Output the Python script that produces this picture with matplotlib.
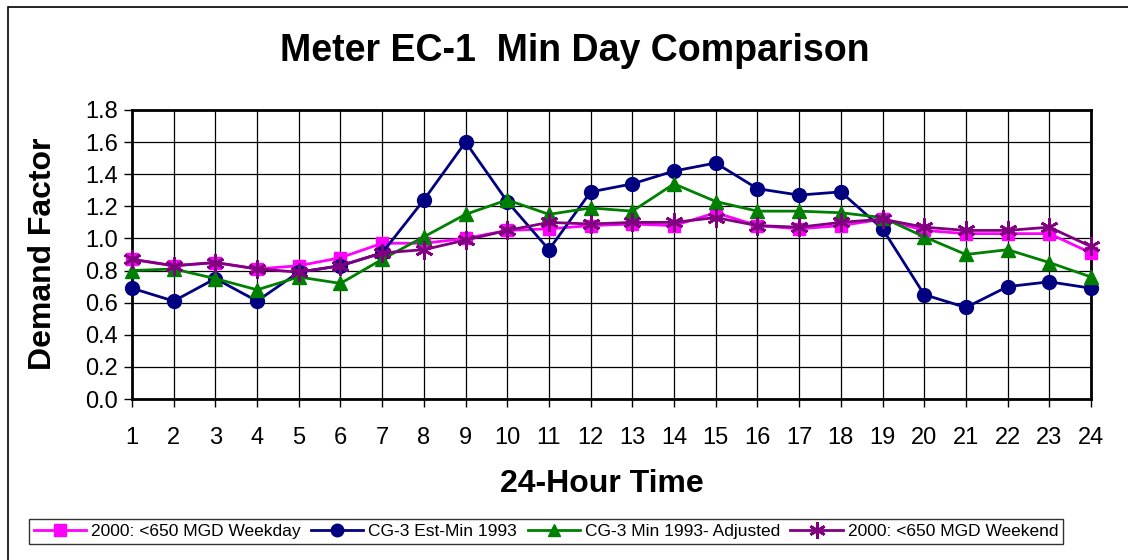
import matplotlib
matplotlib.use("Agg")
import matplotlib.pyplot as plt
from matplotlib.patches import Rectangle

plt.rcParams['font.family'] = ['Liberation Sans', 'DejaVu Sans']

hours = list(range(1, 25))
weekday_2000 = [0.87, 0.83, 0.85, 0.81, 0.83, 0.88, 0.97, 0.97, 1.00, 1.05, 1.06, 1.08, 1.09, 1.08, 1.16, 1.08, 1.06, 1.08, 1.12, 1.05, 1.03, 1.03, 1.03, 0.91]
est_min_1993 = [0.69, 0.61, 0.75, 0.61, 0.79, 0.83, 0.91, 1.24, 1.60, 1.23, 0.93, 1.29, 1.34, 1.42, 1.47, 1.31, 1.27, 1.29, 1.06, 0.65, 0.57, 0.70, 0.73, 0.69]
min_1993_adj = [0.80, 0.81, 0.75, 0.68, 0.76, 0.72, 0.87, 1.01, 1.15, 1.24, 1.15, 1.19, 1.17, 1.34, 1.23, 1.17, 1.17, 1.16, 1.13, 1.01, 0.90, 0.93, 0.85, 0.76]
weekend_2000 = [0.87, 0.83, 0.85, 0.81, 0.79, 0.83, 0.91, 0.93, 0.99, 1.05, 1.10, 1.09, 1.10, 1.10, 1.13, 1.08, 1.07, 1.10, 1.12, 1.07, 1.05, 1.05, 1.07, 0.95]

labels = ["2000: <650 MGD Weekday", "CG-3 Est-Min 1993", "CG-3 Min 1993- Adjusted", "2000: <650 MGD Weekend"]
y_ticks = [0.0, 0.2, 0.4, 0.6, 0.8, 1.0, 1.2, 1.4, 1.6, 1.8]

fig = plt.figure(figsize=(11.28, 5.6), dpi=100)
ax = fig.add_axes([132/1128, 1-399/560, (1091-132)/1128, (399-110)/560])

# outer chart border (top and left visible)
fig.patches.append(Rectangle((8/1128, -0.1), 1.2, 1 - 7/560 + 0.1, transform=fig.transFigure,
                             fill=False, edgecolor='black', linewidth=1.2))

ax.plot(hours, weekday_2000, color='#FF00FF', lw=2, marker='s', ms=9, mec='#FF00FF', mfc='#FF00FF', label=labels[0], zorder=3, clip_on=False)
ax.plot(hours, est_min_1993, color='#000080', lw=2, marker='o', ms=10, mec='#000080', mfc='#000080', label=labels[1], zorder=4, clip_on=False)
ax.plot(hours, min_1993_adj, color='#008000', lw=2, marker='^', ms=10, mec='#008000', mfc='#008000', label=labels[2], zorder=5, clip_on=False)
ax.plot(hours, weekend_2000, color='#800080', lw=2, marker=(6, 2, 0), ms=13, mew=2, mec='#800080', label=labels[3], zorder=6, clip_on=False)

ax.set_xlim(1, 24)
ax.set_ylim(0, 1.8)
ax.set_xticks(hours)
ax.set_yticks(y_ticks)
ax.set_yticklabels([f"{v:.1f}" for v in y_ticks])
ax.grid(True, color='black', lw=0.9)
ax.set_axisbelow(True)
for s in ax.spines.values():
    s.set_linewidth(2)
ax.tick_params(axis='both', direction='out', length=6, width=1, labelsize=17, colors='black')
ax.tick_params(axis='x', pad=14)
ax.tick_params(axis='y', pad=4)

fig.text(575/1128, 1-51/560, "Meter EC-1  Min Day Comparison", ha='center', va='center', fontsize=27, fontweight='bold')
fig.text(602/1128, 1-484/560, "24-Hour Time", ha='center', va='center', fontsize=23, fontweight='bold')
fig.text(43/1128, 1-254/560, "Demand Factor", ha='center', va='center', rotation=90, fontsize=23, fontweight='bold')

leg = fig.legend(loc='center', bbox_to_anchor=(546/1128, 1-531.5/560), ncol=4, fontsize=12.5,
                 frameon=True, fancybox=False, edgecolor='black', handlelength=3.0,
                 columnspacing=0.6, handletextpad=0.3, borderpad=0.3, markerscale=0.9)
leg.get_frame().set_linewidth(1)

fig.savefig("out.png", dpi=100)
